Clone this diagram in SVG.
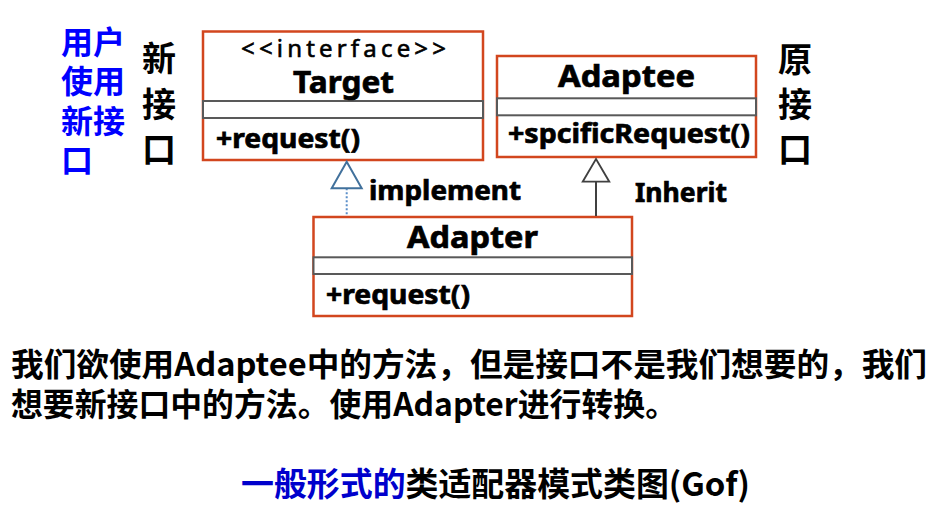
<svg xmlns="http://www.w3.org/2000/svg" width="946" height="505" viewBox="0 0 946 505">
<defs>
<style>
.box{fill:#fff;stroke:#d2461e;stroke-width:2.5}
.band{fill:#fff;stroke:#595959;stroke-width:2}
.lat{font-family:"Noto Sans","Liberation Sans",sans-serif;font-weight:bold;fill:#000;stroke:#000;stroke-width:0.7}
.reg{font-family:"Noto Sans","Liberation Sans",sans-serif;font-weight:normal;fill:#000;stroke:#000;stroke-width:0.6}
.cjk{font-family:"Noto Sans CJK SC","Noto Sans",sans-serif;font-weight:bold}
</style>
</defs>
<rect width="946" height="505" fill="#fff"/>
<g id="label-user" class="cjk" font-size="32" fill="#0000ff">
<text x="61" y="54">用户<tspan x="61" y="93">使用</tspan><tspan x="61" y="132.5">新接</tspan><tspan x="61" y="172">口</tspan></text>
</g>
<g id="label-new" class="cjk" font-size="34" fill="#000">
<text x="142" y="70.5">新</text>
<text x="142" y="117">接</text>
<text x="142" y="162">口</text>
</g>
<g id="label-orig" class="cjk" font-size="34" fill="#000">
<text x="778" y="72">原</text>
<text x="778" y="117">接</text>
<text x="778" y="162">口</text>
</g>
<g id="target">
<rect class="box" x="203" y="31.5" width="280" height="128.5"/>
<rect class="band" x="203" y="101" width="280" height="17"/>
<text class="reg" x="343.5" y="56.5" font-size="24" text-anchor="middle" textLength="205" lengthAdjust="spacing">&lt;&lt;interface&gt;&gt;</text>
<text class="lat" x="343.5" y="92.5" font-size="31" text-anchor="middle" textLength="101" lengthAdjust="spacingAndGlyphs">Target</text>
<text class="lat" x="216" y="148" font-size="27" textLength="144" lengthAdjust="spacingAndGlyphs">+request()</text>
</g>
<g id="adaptee">
<rect class="box" x="497" y="56" width="259" height="101"/>
<rect class="band" x="497" y="98.3" width="259" height="17"/>
<text class="lat" x="626.5" y="87" font-size="31" text-anchor="middle" textLength="137" lengthAdjust="spacingAndGlyphs">Adaptee</text>
<text class="lat" x="508" y="142.5" font-size="27" textLength="242" lengthAdjust="spacingAndGlyphs">+spcificRequest()</text>
</g>
<g id="adapter">
<rect class="box" x="313.5" y="217" width="318.5" height="99"/>
<rect class="band" x="313.5" y="257.3" width="318.5" height="16.7"/>
<text class="lat" x="472.5" y="248" font-size="31" text-anchor="middle" textLength="131" lengthAdjust="spacingAndGlyphs">Adapter</text>
<text class="lat" x="326" y="304" font-size="27" textLength="144" lengthAdjust="spacingAndGlyphs">+request()</text>
</g>
<g id="connectors">
<line x1="346.7" y1="188.3" x2="346.7" y2="216" stroke="#5b8fc9" stroke-width="2" stroke-dasharray="2,2"/>
<polygon points="346.7,161.7 361.7,188.3 331.7,188.3" fill="#fff" stroke="#41719c" stroke-width="2"/>
<line x1="596" y1="181.7" x2="596" y2="216" stroke="#404040" stroke-width="2"/>
<polygon points="596,159 609.3,181.7 582.7,181.7" fill="#fff" stroke="#404040" stroke-width="1.8"/>
<text class="lat" x="369" y="200" font-size="27" textLength="152" lengthAdjust="spacingAndGlyphs">implement</text>
<text class="lat" x="635" y="202" font-size="27" textLength="92" lengthAdjust="spacingAndGlyphs">Inherit</text>
</g>
<g id="paragraph" class="cjk" font-size="32" fill="#000">
<text x="11" y="375.5" textLength="916" lengthAdjust="spacingAndGlyphs">我们欲使用Adaptee中的方法，但是接口不是我们想要的，我们</text>
<text x="11" y="415.5" textLength="666" lengthAdjust="spacingAndGlyphs">想要新接口中的方法。使用Adapter进行转换。</text>
</g>
<g id="title" class="cjk" font-size="32.5">
<text x="241" y="495.5" textLength="509" lengthAdjust="spacingAndGlyphs"><tspan fill="#0000cc">一般形式的</tspan><tspan fill="#000">类适配器模式类图(Gof)</tspan></text>
</g>
</svg>
